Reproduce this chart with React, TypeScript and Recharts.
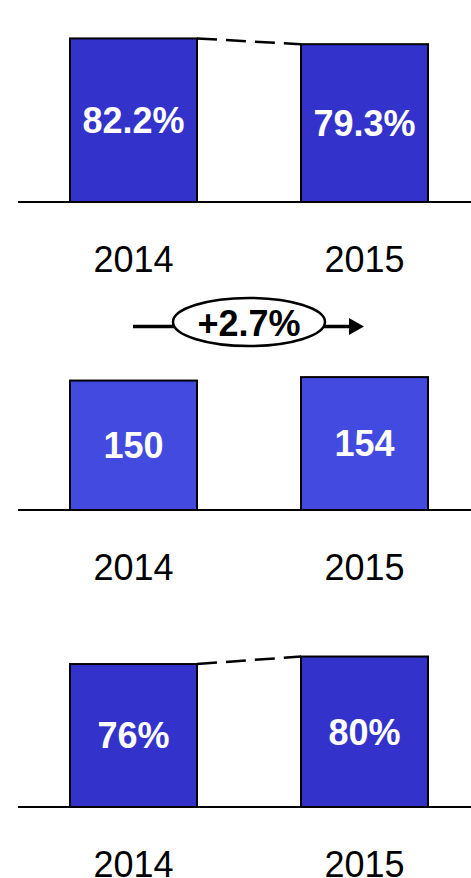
import { Bar, BarChart, LabelList, XAxis, YAxis } from "recharts";

const YEARS = ["2014", "2015"];
const SHARE_TOP = [82.2, 79.3];
const COUNTS = [150, 154];
const SHARE_BOTTOM = [76, 80];

const FONT = "'Liberation Sans', Arial, Helvetica, sans-serif";
const DARK_BLUE = "#3333cc";
const LIGHT_BLUE = "#434ae0";

const toRows = (values: number[]) => YEARS.map((year, i) => ({ year, value: values[i] }));

// bar shape that also draws a dashed link from the previous bar's top corner
function makeShape(fill: string, connect: boolean) {
  const seen: { x: number; y: number; w: number }[] = [];
  return (props: any) => {
    const { x, y, width, height, index } = props;
    seen[index] = { x, y, w: width };
    const prev = index > 0 ? seen[index - 1] : null;
    return (
      <g>
        <rect x={x} y={y} width={width} height={height} fill={fill} stroke="#000" strokeWidth={2} />
        {connect && prev && (
          <line
            x1={prev.x + prev.w}
            y1={prev.y}
            x2={x}
            y2={y}
            stroke="#000"
            strokeWidth={2.5}
            strokeDasharray="20 9"
          />
        )}
      </g>
    );
  };
}

const shapeTop = makeShape(DARK_BLUE, true);
const shapeMid = makeShape(LIGHT_BLUE, false);
const shapeBottom = makeShape(DARK_BLUE, true);

function Panel({
  values,
  top,
  baseline,
  pxPerUnit,
  max,
  shape,
  suffix,
}: {
  values: number[];
  top: number;
  baseline: number;
  pxPerUnit: number;
  max: number;
  shape: (p: any) => any;
  suffix: string;
}) {
  const axisH = 90;
  const plotH = pxPerUnit * max;
  const marginTop = baseline - top - plotH;
  const h = baseline - top + axisH;
  return (
    <div style={{ position: "absolute", left: 0, top }}>
      <BarChart
        width={480}
        height={h}
        data={toRows(values)}
        margin={{ top: marginTop, right: 0, bottom: 0, left: 18 }}
      >
        <XAxis
          dataKey="year"
          height={axisH}
          axisLine={{ stroke: "#000", strokeWidth: 2 }}
          tickLine={false}
          tickSize={0}
          tickMargin={44}
          interval={0}
          tick={{ fill: "#000", fontSize: 36, fontFamily: FONT }}
        />
        <YAxis hide domain={[0, max]} />
        <Bar dataKey="value" barSize={127} shape={shape} isAnimationActive={false}>
          <LabelList
            dataKey="value"
            position="center"
            formatter={(v: any) => `${v}${suffix}`}
            fill="#fff"
            fontSize={36}
            fontWeight="bold"
            fontFamily={FONT}
          />
        </Bar>
      </BarChart>
    </div>
  );
}

export default function App() {
  const growth = ((COUNTS[1] - COUNTS[0]) / COUNTS[0]) * 100;
  return (
    <div
      style={{
        position: "absolute",
        left: 0,
        top: 0,
        width: 471,
        height: 878,
        overflow: "hidden",
        background: "#fff",
        fontFamily: FONT,
      }}
    >
      <Panel values={SHARE_TOP} top={0} baseline={202} pxPerUnit={1.99} max={100} shape={shapeTop} suffix="%" />
      <Panel values={COUNTS} top={330} baseline={510} pxPerUnit={0.863} max={200} shape={shapeMid} suffix="" />
      <Panel values={SHARE_BOTTOM} top={600} baseline={807} pxPerUnit={1.881} max={100} shape={shapeBottom} suffix="%" />

      <svg width={471} height={878} style={{ position: "absolute", left: 0, top: 0, pointerEvents: "none" }}>
        <line x1={133} y1={326.5} x2={174} y2={326.5} stroke="#000" strokeWidth={3.5} />
        <line x1={324} y1={326.5} x2={351} y2={326.5} stroke="#000" strokeWidth={3.5} />
        <polygon points="349,318 364,326.5 349,335" fill="#000" />
        <ellipse cx={249} cy={322} rx={76} ry={24} fill="#fff" stroke="#000" strokeWidth={2.5} />
        <text x={249} y={336} textAnchor="middle" fontSize={36} fontWeight="bold" fontFamily={FONT} fill="#000">
          {`+${growth.toFixed(1)}%`}
        </text>
      </svg>
    </div>
  );
}
